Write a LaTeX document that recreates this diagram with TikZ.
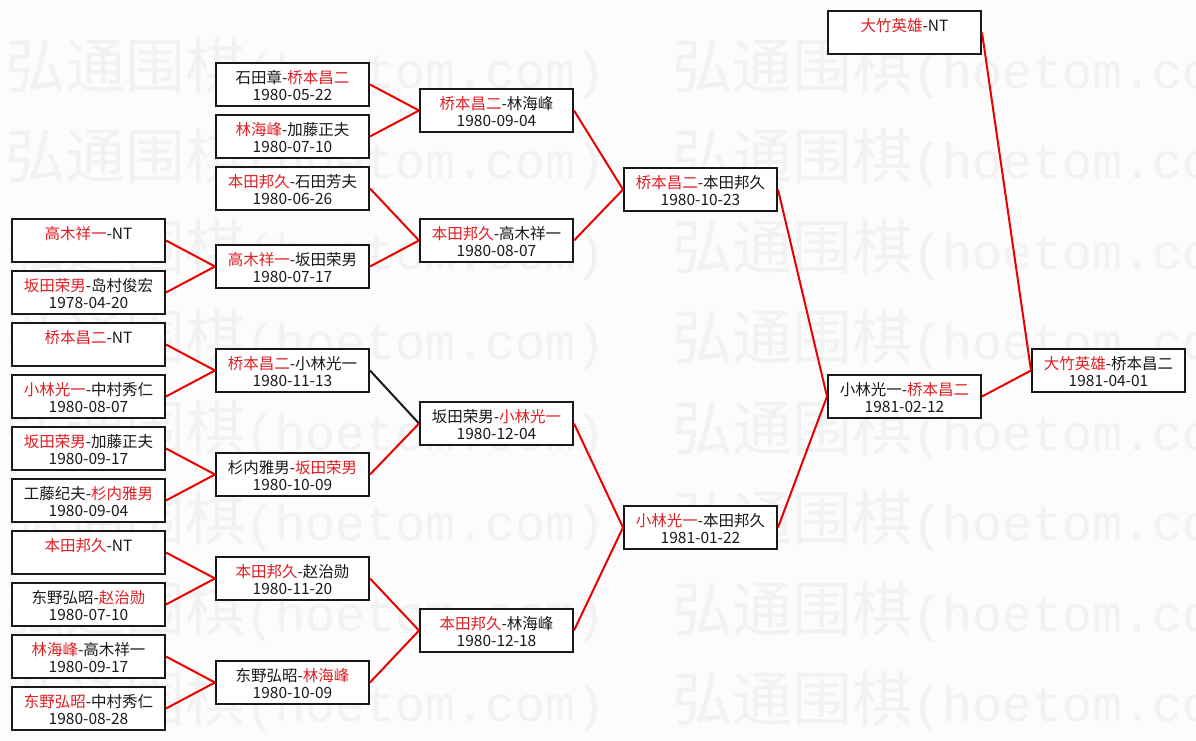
\documentclass[tikz,border=0pt]{standalone}
\usepackage{fontspec}
\setmainfont{Noto Sans CJK SC}
\newfontfamily\wmmono{Liberation Mono}
\usepackage{xcolor}

\definecolor{winred}{RGB}{225,30,35}
\definecolor{linered}{RGB}{235,0,0}
\definecolor{ink}{RGB}{25,25,25}
\definecolor{paper}{RGB}{252,252,252}
\definecolor{wmgray}{RGB}{242,242,242}

\newcommand{\wn}[1]{\textcolor{winred}{#1}}
\newcommand{\hy}{-}
\newcommand{\game}[2]{\begin{tabular}{@{}c@{}}#1\\\mbox{}#2\end{tabular}}
\newcommand{\wmark}{{\fontsize{60}{60}\selectfont 弘通围棋}{\wmmono\fontsize{50}{50}\selectfont(hoetom.com)}}

\tikzset{
  gamebox/.style={draw=ink, fill=white, line width=2pt, minimum width=153pt, minimum height=43pt,
    inner sep=0pt, text=ink, font=\fontsize{15.5}{17}\selectfont,
    text height=20pt, text depth=6.6pt},
  won/.style={draw=linered, line width=2pt},
  lost/.style={draw=ink, line width=2pt},
  wmtext/.style={anchor=west, inner sep=0pt, text=wmgray}
}

\begin{document}
\begin{tikzpicture}[x=1pt, y=-1pt]
    \fill[paper] (0,0) rectangle (1196,741);
    \useasboundingbox (0,0) rectangle (1196,741);
    % watermark
    \foreach \r in {0,...,7}
        \node[wmtext] (wm\r) at (5,68+90.5*\r) {\wmark\hspace{67pt}\wmark};

    % first round
    \node[gamebox] (a1) at (88.5,240.5) {\game{\wn{高木祥一}-NT}{}};
    \node[gamebox] (a2) at (88.5,292.5) {\game{\wn{坂田荣男}\hy 岛村俊宏}{1978-04-20}};
    \node[gamebox] (a3) at (88.5,344.5) {\game{\wn{桥本昌二}-NT}{}};
    \node[gamebox] (a4) at (88.5,396.5) {\game{\wn{小林光一}\hy 中村秀仁}{1980-08-07}};
    \node[gamebox] (a5) at (88.5,448.5) {\game{\wn{坂田荣男}\hy 加藤正夫}{1980-09-17}};
    \node[gamebox] (a6) at (88.5,500.5) {\game{工藤纪夫\hy\wn{杉内雅男}}{1980-09-04}};
    \node[gamebox] (a7) at (88.5,552.5) {\game{\wn{本田邦久}-NT}{}};
    \node[gamebox] (a8) at (88.5,604.5) {\game{东野弘昭\hy\wn{赵治勋}}{1980-07-10}};
    \node[gamebox] (a9) at (88.5,656.5) {\game{\wn{林海峰}\hy 高木祥一}{1980-09-17}};
    \node[gamebox] (a10) at (88.5,708.5) {\game{\wn{东野弘昭}\hy 中村秀仁}{1980-08-28}};

    % second round
    \node[gamebox] (b1) at (292.5,84.5) {\game{石田章\hy\wn{桥本昌二}}{1980-05-22}};
    \node[gamebox] (b2) at (292.5,136.5) {\game{\wn{林海峰}\hy 加藤正夫}{1980-07-10}};
    \node[gamebox] (b3) at (292.5,188.5) {\game{\wn{本田邦久}\hy 石田芳夫}{1980-06-26}};
    \node[gamebox] (b4) at (292.5,266.5) {\game{\wn{高木祥一}\hy 坂田荣男}{1980-07-17}};
    \node[gamebox] (b5) at (292.5,370.5) {\game{\wn{桥本昌二}\hy 小林光一}{1980-11-13}};
    \node[gamebox] (b6) at (292.5,474.5) {\game{杉内雅男\hy\wn{坂田荣男}}{1980-10-09}};
    \node[gamebox] (b7) at (292.5,578.5) {\game{\wn{本田邦久}\hy 赵治勋}{1980-11-20}};
    \node[gamebox] (b8) at (292.5,682.5) {\game{东野弘昭\hy\wn{林海峰}}{1980-10-09}};

    % third round
    \node[gamebox] (c1) at (496.5,110.5) {\game{\wn{桥本昌二}\hy 林海峰}{1980-09-04}};
    \node[gamebox] (c2) at (496.5,240.5) {\game{\wn{本田邦久}\hy 高木祥一}{1980-08-07}};
    \node[gamebox] (c3) at (496.5,423.5) {\game{坂田荣男\hy\wn{小林光一}}{1980-12-04}};
    \node[gamebox] (c4) at (496.5,630.5) {\game{\wn{本田邦久}\hy 林海峰}{1980-12-18}};

    % semi final, final, title match
    \node[gamebox] (d1) at (700.5,189.5) {\game{\wn{桥本昌二}\hy 本田邦久}{1980-10-23}};
    \node[gamebox] (d2) at (700.5,527.5) {\game{\wn{小林光一}\hy 本田邦久}{1981-01-22}};
    \node[gamebox] (e1) at (904.5,32.5) {\game{\wn{大竹英雄}-NT}{}};
    \node[gamebox] (e2) at (904.5,396.5) {\game{小林光一\hy\wn{桥本昌二}}{1981-02-12}};
    \node[gamebox] (f1) at (1108.5,370.5) {\game{\wn{大竹英雄}\hy 桥本昌二}{1981-04-01}};

    % connectors
    \draw[won] (a1.east) -- (b4.west);
    \draw[won] (a2.east) -- (b4.west);
    \draw[won] (a3.east) -- (b5.west);
    \draw[won] (a4.east) -- (b5.west);
    \draw[won] (a5.east) -- (b6.west);
    \draw[won] (a6.east) -- (b6.west);
    \draw[won] (a7.east) -- (b7.west);
    \draw[won] (a8.east) -- (b7.west);
    \draw[won] (a9.east) -- (b8.west);
    \draw[won] (a10.east) -- (b8.west);
    \draw[won] (b1.east) -- (c1.west);
    \draw[won] (b2.east) -- (c1.west);
    \draw[won] (b3.east) -- (c2.west);
    \draw[won] (b4.east) -- (c2.west);
    \draw[lost] (b5.east) -- (c3.west);
    \draw[won] (b6.east) -- (c3.west);
    \draw[won] (b7.east) -- (c4.west);
    \draw[won] (b8.east) -- (c4.west);
    \draw[won] (c1.east) -- (d1.west);
    \draw[won] (c2.east) -- (d1.west);
    \draw[won] (c3.east) -- (d2.west);
    \draw[won] (c4.east) -- (d2.west);
    \draw[won] (d1.east) -- (e2.west);
    \draw[won] (d2.east) -- (e2.west);
    \draw[won] (e1.east) -- (f1.west);
    \draw[won] (e2.east) -- (f1.west);
\end{tikzpicture}
\end{document}
